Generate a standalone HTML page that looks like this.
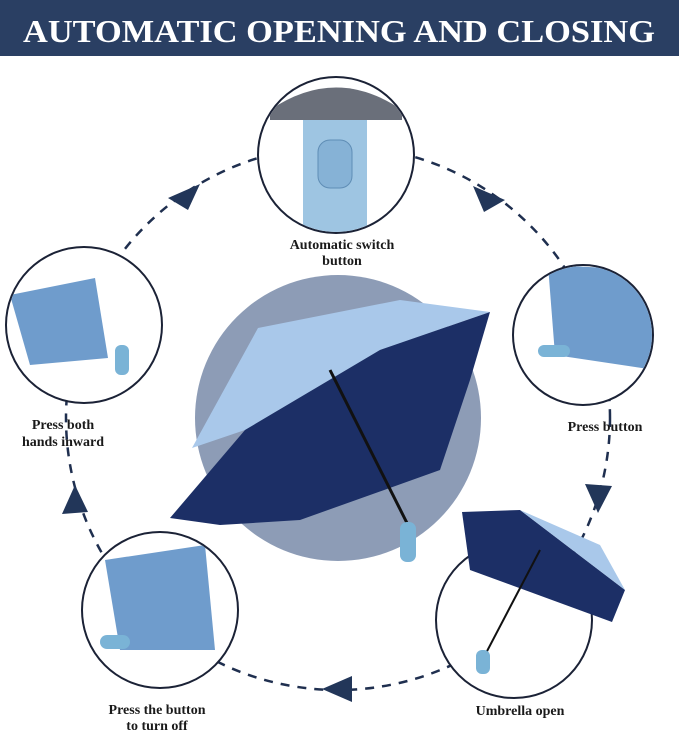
<!DOCTYPE html>
<html><head><meta charset="utf-8"><style>
html,body{margin:0;padding:0;background:#fff;width:679px;height:731px;overflow:hidden}
</style></head><body>
<svg width="679" height="731" viewBox="0 0 679 731" xmlns="http://www.w3.org/2000/svg" font-family="Liberation Serif, serif">
<defs>
<clipPath id="c1"><circle cx="336" cy="155" r="77"/></clipPath>
<clipPath id="c2"><circle cx="583" cy="335" r="69"/></clipPath>
<clipPath id="c4"><circle cx="160" cy="610" r="77"/></clipPath>
<clipPath id="c5"><circle cx="84" cy="325" r="77"/></clipPath>
</defs>
<rect x="0" y="0" width="679" height="56" fill="#2a3f63"/>
<text x="339" y="42" text-anchor="middle" font-size="32" font-weight="bold" fill="#fff" textLength="632" lengthAdjust="spacingAndGlyphs">AUTOMATIC OPENING AND CLOSING</text>
<circle cx="338" cy="418" r="272" fill="none" stroke="#1f2f4f" stroke-width="2.5" stroke-dasharray="9 8"/>
<g fill="#223659">
<polygon points="168,198 200,184 188,210"/>
<polygon points="505,200 473,186 484,212"/>
<polygon points="598,513 585,484 612,486"/>
<polygon points="322,689 352,676 352,702"/>
<polygon points="75,485 62,514 88,512"/>
</g>
<circle cx="338" cy="418" r="143" fill="#8d9cb6"/>
<polygon points="192,448 258,328 400,300 490,312 380,350 245,430" fill="#a9c8ea"/>
<polygon points="170,518 245,430 380,350 490,312 470,380 440,470 300,520 220,525" fill="#1c2f66"/>
<line x1="330" y1="370" x2="408" y2="525" stroke="#111" stroke-width="3"/>
<rect x="400" y="522" width="16" height="40" rx="7" fill="#7ab3d6"/>
<g stroke="#1b2236" stroke-width="2" fill="#fff">
<circle cx="336" cy="155" r="78"/>
<circle cx="583" cy="335" r="70"/>
<circle cx="514" cy="620" r="78"/>
<circle cx="160" cy="610" r="78"/>
<circle cx="84" cy="325" r="78"/>
</g>
<g clip-path="url(#c1)">
<rect x="303" y="100" width="64" height="140" rx="12" fill="#9ec5e2"/>
<rect x="318" y="140" width="34" height="48" rx="12" fill="#86b2d6" stroke="#5f8db5"/>
<path d="M270,110 Q336,65 402,110 L402,120 L270,120Z" fill="#6a6f7a"/>
</g>
<g clip-path="url(#c2)">
<polygon points="548,265 650,270 655,370 555,355" fill="#6f9ccc"/>
<rect x="538" y="345" width="32" height="12" rx="6" fill="#7ab3d6"/>
</g>
<polygon points="462,512 520,510 625,590 612,622 470,570" fill="#1c2f66"/>
<polygon points="520,510 600,545 625,590" fill="#a9c8ea"/>
<line x1="540" y1="550" x2="485" y2="655" stroke="#111" stroke-width="2"/>
<rect x="476" y="650" width="14" height="24" rx="6" fill="#7ab3d6"/>
<g clip-path="url(#c4)">
<polygon points="105,560 205,545 215,650 120,650" fill="#6f9ccc"/>
<rect x="100" y="635" width="30" height="14" rx="7" fill="#7ab3d6"/>
</g>
<g clip-path="url(#c5)">
<polygon points="10,295 95,278 108,358 30,365" fill="#6f9ccc"/>
<rect x="115" y="345" width="14" height="30" rx="6" fill="#7ab3d6"/>
</g>
<g font-size="14" font-weight="bold" fill="#1a1a1a" text-anchor="middle">
<text x="342" y="249">Automatic switch</text>
<text x="342" y="265">button</text>
<text x="605" y="431">Press button</text>
<text x="63" y="429">Press both</text>
<text x="63" y="446">hands inward</text>
<text x="157" y="714">Press the button</text>
<text x="157" y="730">to turn off</text>
<text x="520" y="715">Umbrella open</text>
</g>
</svg>
</body></html>
